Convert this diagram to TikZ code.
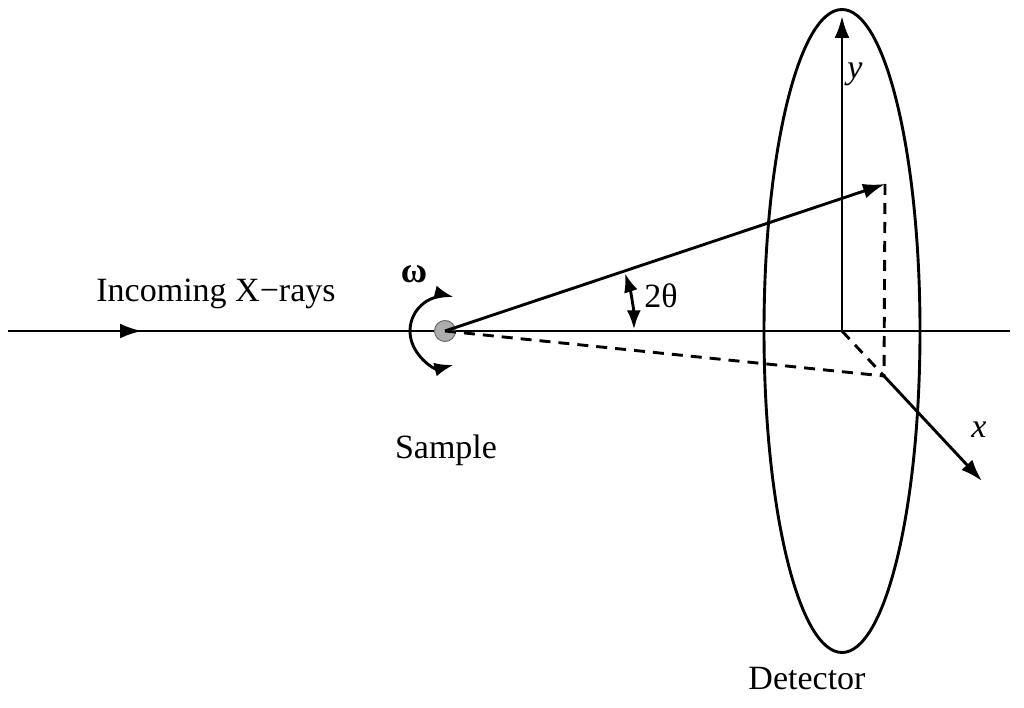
\documentclass[tikz,border=0pt]{standalone}
\usepackage{fontspec}
\setmainfont{Liberation Serif}
\usetikzlibrary{arrows.meta,shapes.geometric}
\begin{document}
\begin{tikzpicture}[x=1pt,y=-1pt,
  line width=2.9pt,
  tip/.style={-{Latex[length=22pt,width=15pt]}},
  tips/.style={{Latex[length=19pt,width=14pt]}-{Latex[length=19pt,width=14pt]}},
  dsh/.style={dash pattern=on 11pt off 8pt},
  lbl/.style={font=\fontsize{34}{40}\selectfont, inner sep=0pt}]
\useasboundingbox (0,0) rectangle (1024,708);
% coordinates
\coordinate (L) at (8,331);
\coordinate (R) at (1010,331);
\coordinate (A) at (142,331);
\coordinate (O) at (842,331);
\coordinate (Yt) at (842,16);
\coordinate (P) at (885,184);
\coordinate (Q) at (884,376);
\coordinate (Xt) at (982,481);
% detector
\node[draw, ellipse, minimum width=156pt, minimum height=643pt, inner sep=0pt, line width=2.9pt] (det) at (842,331) {};
% incoming beam
\draw (L) -- (R);
\draw[tip] (L) -- (A);
% sample
\node[circle, fill=gray!65, draw=gray!85!black, line width=1pt, minimum size=21pt, inner sep=0pt] (samp) at (445,331) {};
% diffracted beam
\draw[tip] (samp.center) -- (P);
\draw[dsh] (samp.center) -- (Q);
\draw[dsh] (P) -- (Q);
% detector axes
\draw[tip] (O) -- (Yt);
\draw[dsh] (O) -- (Q);
\draw[tip] (Q) -- (Xt);
% omega rotation
\draw[tips] (samp.center) ++(76:35) arc[start angle=76, end angle=284, radius=35];
% 2theta arc
\draw[tips] (samp.center) ++(-0.5:189) arc[start angle=-0.5, end angle=-17.8, radius=189];
% labels
\node[lbl] (t1) at (216,294) {Incoming X−rays};
\node[lbl, font=\fontsize{36}{40}\selectfont\bfseries] (t2) at (414,274) {ω};
\node[lbl] (t3) at (661,296) {2θ};
\node[lbl] (t4) at (446,450) {Sample};
\node[lbl] (t5) at (807,679) {Detector};
\node[lbl] (t6) at (855,74) {\itshape y};
\node[lbl] (t7) at (979,430) {\itshape x};
\end{tikzpicture}
\end{document}
